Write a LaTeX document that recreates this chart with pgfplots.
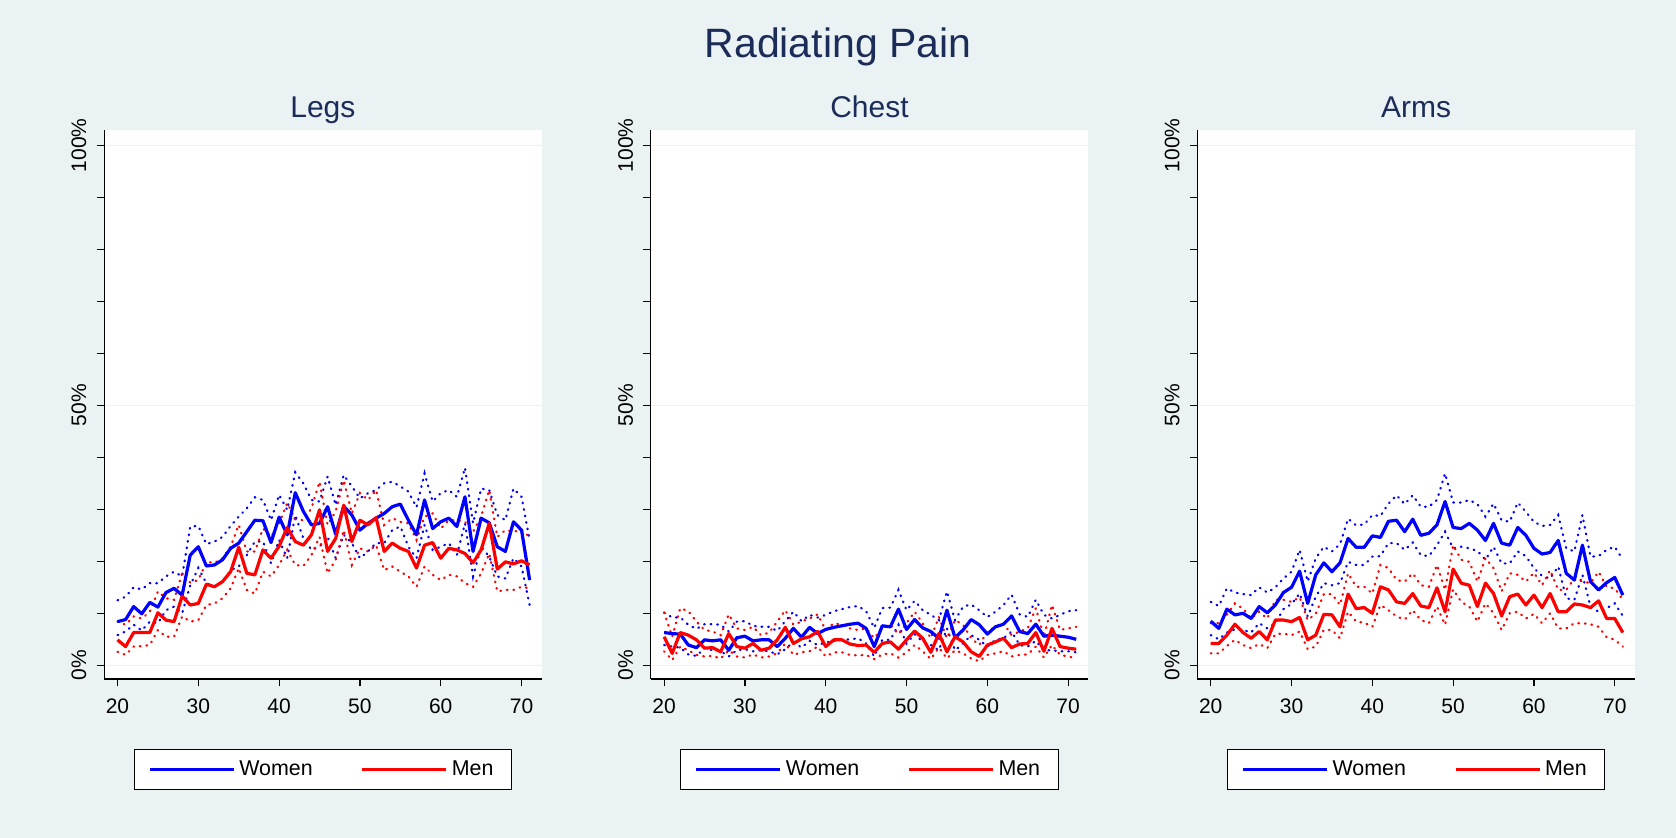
\documentclass[border=0pt]{standalone}
\usepackage{pgfplots}
\pgfplotsset{compat=1.18}
\usepackage{pgfplotstable}
\usepackage{fontspec}
\setmainfont{Liberation Sans}
\definecolor{bg}{HTML}{EAF2F3}
\definecolor{navy}{RGB}{28,44,88}
\definecolor{wblue}{RGB}{0,0,255}
\definecolor{mred}{RGB}{255,0,0}

% age, women mean/lower/upper, men mean/lower/upper
\pgfplotstableread{
age wm wl wu mm ml mu
20 8.4 5.8 12.5 4.9 2.6 8.4
21 8.8 6.5 13.2 3.6 2.0 7.8
22 11.3 7.8 15.0 6.3 3.6 9.4
23 9.9 6.7 14.6 6.3 3.7 9.0
24 12.1 8.4 15.8 6.3 3.9 10.3
25 11.2 8.1 15.8 10.1 6.8 14.2
26 14.0 10.6 17.1 8.7 5.5 12.9
27 14.8 11.3 18.0 8.4 5.5 12.6
28 13.5 10.0 17.1 13.3 9.4 17.7
29 21.2 15.4 26.7 11.6 8.4 15.9
30 22.8 18.7 26.8 11.9 8.7 16.4
31 19.1 15.8 23.3 15.6 11.6 19.9
32 19.3 15.1 23.8 15.1 11.9 19.7
33 20.3 16.1 24.7 16.1 12.9 20.6
34 22.5 18.3 26.8 18.0 14.8 22.8
35 23.5 19.0 28.6 22.7 18.7 27.0
36 25.7 21.2 30.2 17.7 14.5 21.9
37 27.9 23.8 32.3 17.4 13.8 21.9
38 27.8 23.8 31.8 22.2 18.0 26.3
39 23.6 19.6 27.9 20.6 17.1 24.7
40 28.5 24.1 32.8 22.9 19.3 27.3
41 25.1 20.6 29.9 26.5 22.2 31.2
42 33.2 28.9 37.1 23.8 19.3 28.1
43 29.6 24.4 35.0 23.1 19.1 27.9
44 27.0 22.2 31.8 25.1 21.2 30.2
45 27.3 22.8 31.5 29.9 24.7 35.3
46 30.5 24.7 36.3 21.9 17.7 27.0
47 25.2 20.6 30.8 24.4 20.3 29.6
48 30.6 25.1 36.6 30.8 26.0 35.6
49 28.9 23.5 34.4 23.8 19.3 29.2
50 26.0 20.6 32.1 27.9 22.5 33.1
51 27.3 21.9 33.1 27.0 21.9 31.8
52 28.3 23.5 33.7 28.4 23.1 33.7
53 29.2 23.5 35.0 21.9 18.3 27.0
54 30.5 26.0 35.3 23.5 19.0 28.3
55 31.0 26.7 34.4 22.5 18.0 27.6
56 27.9 22.8 33.4 21.9 17.1 27.3
57 25.1 20.6 30.4 18.7 15.1 24.1
58 31.8 27.0 36.9 23.1 19.0 28.6
59 26.3 22.2 31.5 23.6 17.4 29.2
60 27.6 22.8 33.1 20.6 16.4 26.3
61 28.3 23.5 33.7 22.5 17.4 27.9
62 26.7 21.2 32.4 22.2 17.1 27.9
63 32.4 27.3 38.0 21.5 15.8 27.6
64 21.9 17.1 27.3 19.7 15.1 25.7
65 28.3 22.8 34.0 22.2 17.7 28.6
66 27.4 20.9 33.7 27.3 21.5 33.7
67 22.8 17.1 28.9 18.5 14.2 24.7
68 21.9 16.7 27.9 19.9 14.5 26.0
69 27.6 20.6 34.0 19.5 14.5 25.7
70 26.0 19.0 32.4 20.1 15.1 26.0
71 16.4 11.6 24.1 19.3 14.8 24.7
}\legs

\pgfplotstableread{
age wm wl wu mm ml mu
20 6.3 3.9 10.1 5.5 2.7 10.2
21 6.1 3.6 9.2 2.3 1.0 5.5
22 6.0 3.4 9.2 6.3 3.6 11.0
23 3.9 2.1 7.8 5.8 2.9 10.4
24 3.4 1.8 7.0 4.9 2.0 8.4
25 4.9 3.3 7.9 3.3 1.7 6.8
26 4.7 2.9 7.9 3.4 1.8 6.5
27 4.9 2.7 7.8 2.6 1.3 5.8
28 2.9 1.7 6.5 6.1 2.9 9.8
29 5.3 2.9 8.4 3.6 1.7 7.1
30 5.6 3.1 8.5 3.3 1.5 6.8
31 4.7 2.7 7.6 4.2 2.1 7.4
32 4.9 2.9 7.4 2.9 1.5 5.8
33 4.9 2.7 7.4 3.3 1.7 6.3
34 3.6 2.1 6.6 4.9 2.3 8.4
35 5.2 3.1 8.5 7.3 4.2 10.6
36 7.1 4.5 10.3 4.2 2.0 7.8
37 5.4 3.4 8.5 5.1 2.5 8.4
38 7.3 4.7 9.7 5.5 2.7 9.0
39 6.1 3.9 9.2 6.5 3.6 9.8
40 6.9 4.4 9.7 3.6 1.7 6.8
41 7.3 4.7 10.4 4.9 2.5 8.1
42 7.6 4.9 10.8 4.9 2.5 7.8
43 7.9 5.0 11.2 4.1 2.0 7.1
44 8.1 5.2 11.4 3.8 1.9 6.8
45 7.1 4.2 10.4 3.9 2.0 7.1
46 3.6 1.7 7.2 2.5 1.2 5.2
47 7.6 4.9 11.0 4.2 2.1 7.1
48 7.4 4.9 11.1 4.5 2.3 7.8
49 10.8 7.8 14.5 3.1 1.5 6.0
50 6.9 4.2 10.6 4.9 2.5 8.1
51 8.8 6.0 12.4 6.6 3.9 10.3
52 7.2 4.5 10.6 5.2 2.7 8.1
53 6.5 3.9 9.7 2.5 1.2 5.2
54 5.2 2.9 8.7 6.1 3.4 9.3
55 10.6 7.1 14.2 2.6 1.3 5.2
56 5.3 2.9 8.7 5.5 2.9 8.7
57 6.8 4.2 11.3 4.5 2.3 7.8
58 8.8 5.8 11.7 2.6 1.3 5.2
59 7.8 4.9 10.6 1.7 0.8 3.9
60 6.0 3.6 9.3 3.9 2.0 6.5
61 7.4 4.9 10.3 4.5 2.3 7.4
62 7.9 5.2 11.6 5.2 2.7 8.1
63 9.5 6.5 13.6 3.4 1.7 5.8
64 6.5 3.9 9.8 4.1 2.0 6.5
65 6.1 3.6 9.3 4.2 2.1 7.1
66 7.9 4.7 12.6 6.3 3.6 11.0
67 5.6 2.9 9.7 2.7 1.5 5.5
68 5.8 2.9 9.0 7.1 3.9 11.6
69 5.6 2.7 9.7 3.6 2.0 6.8
70 5.4 2.7 10.4 3.3 1.7 7.1
71 5.0 2.5 10.6 3.1 1.3 7.4
}\chest

\pgfplotstableread{
age wm wl wu mm ml mu
20 8.5 5.8 12.2 4.2 2.3 8.1
21 7.1 5.0 11.4 4.2 2.3 8.1
22 10.8 6.3 14.8 5.8 3.7 9.7
23 9.7 6.9 14.0 7.9 4.9 11.9
24 10.0 6.8 13.7 6.3 3.9 10.9
25 9.0 6.3 13.5 5.2 3.3 9.0
26 11.3 8.1 15.0 6.5 4.1 10.3
27 10.1 7.1 14.0 4.9 3.3 9.0
28 11.6 8.1 15.0 8.7 6.0 12.6
29 14.0 10.8 16.7 8.7 6.1 12.6
30 15.0 11.8 18.0 8.4 5.8 12.2
31 18.1 13.8 22.2 9.2 6.5 13.1
32 11.9 9.4 16.1 4.9 3.1 8.7
33 17.4 13.2 20.6 5.8 3.6 9.9
34 19.7 15.8 22.8 9.8 6.8 13.7
35 18.0 15.4 21.9 9.7 6.8 13.7
36 19.7 15.8 23.3 7.4 5.2 11.6
37 24.4 19.9 28.2 13.7 10.3 17.7
38 22.7 19.3 26.9 10.9 8.4 15.1
39 22.7 19.3 27.1 11.1 8.2 15.1
40 24.9 20.9 28.9 10.0 7.4 13.8
41 24.6 21.0 28.7 15.1 11.6 19.3
42 27.7 23.5 31.1 14.5 10.6 18.7
43 27.9 23.5 32.7 12.2 9.4 16.4
44 25.7 22.2 31.0 11.9 8.8 16.1
45 28.1 23.6 32.7 13.8 10.6 17.7
46 25.0 21.2 30.5 11.4 8.7 15.4
47 25.4 21.0 30.5 11.1 8.1 15.1
48 27.0 23.1 31.8 14.9 11.3 19.3
49 31.5 25.7 36.9 10.3 7.8 14.5
50 26.5 22.5 31.3 18.5 14.6 23.1
51 26.3 22.8 31.3 15.8 12.2 20.3
52 27.3 22.5 31.8 15.4 11.3 19.9
53 26.0 22.0 31.0 11.3 8.4 16.1
54 24.0 20.3 28.6 15.8 11.9 20.6
55 27.3 22.8 31.1 13.8 10.0 18.7
56 23.5 19.6 27.9 9.5 6.8 14.2
57 23.1 19.6 27.6 13.2 10.0 17.7
58 26.5 21.9 31.3 13.7 10.3 17.4
59 25.0 21.0 29.5 11.6 9.0 16.1
60 22.5 18.7 27.6 13.5 9.9 17.8
61 21.4 17.2 26.8 11.1 8.1 15.4
62 21.7 16.7 27.0 13.8 10.0 18.3
63 24.0 19.0 28.9 10.3 7.1 14.5
64 17.7 12.9 22.5 10.3 7.1 14.5
65 16.4 12.6 21.9 11.8 8.1 16.7
66 23.1 17.4 28.9 11.6 8.1 16.1
67 16.1 11.3 20.9 11.1 7.9 15.8
68 14.5 10.3 21.0 12.4 7.4 18.0
69 15.9 11.0 22.2 9.0 5.4 15.1
70 16.9 11.9 22.8 9.0 4.9 14.8
71 13.5 9.5 20.3 6.3 3.6 12.6
}\arms

\pgfplotsset{
  panel/.style={
    scale only axis, width=218.65pt, height=274.5pt,
    xmin=18.354, xmax=72.47, ymin=-2.63, ymax=102.95,
    axis lines=left, axis line style={-, black, line width=0.6pt},
    axis background/.style={fill=white},
    tick align=outside, major tick length=3.7pt, minor tick length=3.7pt,
    tick style={black, line width=0.6pt},
    xtick={20,30,40,50,60,70}, xticklabels={20,30,40,50,60,70},
    ytick={0,50,100}, yticklabels={0\%,50\%,100\%},
    minor ytick={10,20,30,40,60,70,80,90},
    ymajorgrids, grid style={color=bg, line width=0.8pt},
    xticklabel style={font=\fontsize{10.5}{12}\selectfont, inner sep=0pt, anchor=north, yshift=-5.8pt},
    yticklabel style={font=\fontsize{10.5}{12}\selectfont, rotate=90, anchor=south, inner sep=0pt, yshift=5pt},
    title style={at={(0.5,1)}, anchor=base, yshift=0pt, font=\fontsize{15}{18}\selectfont, text=navy},
    legend style={at={(0.5,-0.1643)}, anchor=center, draw=black, line width=0.5pt, fill=white,
      font=\fontsize{10.7}{12}\selectfont, inner xsep=7pt, inner ysep=3.6pt,
      /tikz/every even column/.append style={column sep=22pt}},
    legend columns=2,
    legend image code/.code={\draw[#1] (0pt,0pt) -- (42pt,0pt);},
  },
  ci/.style={line width=1.1pt, dash pattern=on 0.4pt off 2.9pt, line cap=round},
  mean/.style={line width=1.6pt, line join=round},
}

\newcommand{\panelplots}[1]{%
  \addplot[wblue, ci, forget plot] table[x=age, y=wu] {#1};
  \addplot[wblue, ci, forget plot] table[x=age, y=wl] {#1};
  \addplot[mred, ci, forget plot] table[x=age, y=mu] {#1};
  \addplot[mred, ci, forget plot] table[x=age, y=ml] {#1};
  \addplot[wblue, mean] table[x=age, y=wm] {#1};
  \addlegendentry{Women}
  \addplot[mred, mean] table[x=age, y=mm] {#1};
  \addlegendentry{Men}
}

\begin{document}
\begin{tikzpicture}
\fill[bg] (0,0) rectangle (838pt,419pt);
\node[anchor=base, text=navy, font=\fontsize{20.5}{24}\selectfont] at (419pt,390pt) {Radiating Pain};

\begin{axis}[panel, at={(52.1pt,79.5pt)}, anchor=south west, title={Legs}]
\panelplots{\legs}
\end{axis}

\begin{axis}[panel, at={(325.4pt,79.5pt)}, anchor=south west, title={Chest}]
\panelplots{\chest}
\end{axis}

\begin{axis}[panel, at={(598.7pt,79.5pt)}, anchor=south west, title={Arms}]
\panelplots{\arms}
\end{axis}

\pgfresetboundingbox
\useasboundingbox (0,0) rectangle (838pt,419pt);
\end{tikzpicture}
\end{document}
